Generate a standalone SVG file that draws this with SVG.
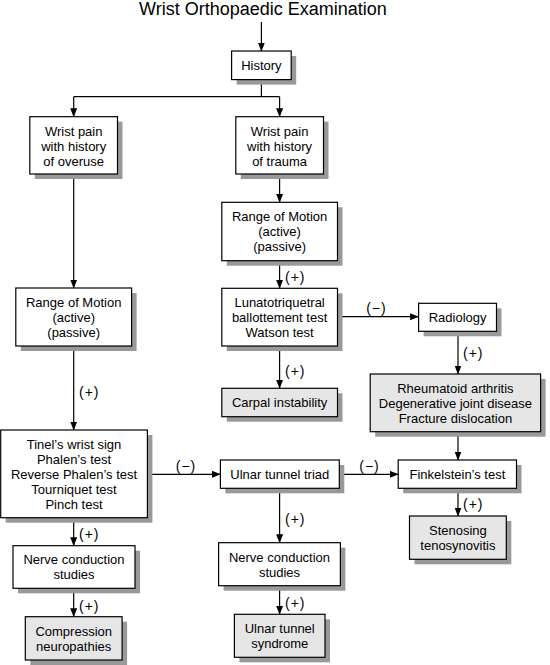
<svg xmlns="http://www.w3.org/2000/svg" width="550" height="665" viewBox="0 0 550 665">
<defs>
<style>
.sh{fill:#999;stroke:none}
.bx{fill:#fff;stroke:#000;stroke-width:1.2}
.gx{fill:#e6e6e6;stroke:#000;stroke-width:1.2}
text{font-family:"Liberation Sans",Arial,sans-serif;font-size:13px;fill:#000;text-anchor:middle}
.lb{font-size:14px;letter-spacing:1px;text-anchor:start}
.lc{font-size:14px;letter-spacing:1px}
.ttl{font-size:18px}
.ln{fill:none;stroke:#000;stroke-width:1.2}
.ar{fill:none;stroke:#000;stroke-width:1.2;marker-end:url(#ah)}
</style>
<marker id="ah" markerWidth="9" markerHeight="7" refX="8.5" refY="3.5" orient="auto" markerUnits="userSpaceOnUse">
<path d="M0,0 L9,3.5 L0,7 z" fill="#000"/>
</marker>
</defs>
<rect width="550" height="665" fill="#fff"/>
<text class="ttl" x="263" y="15">Wrist Orthopaedic Examination</text>

<g id="connectors">
<line class="ar" x1="261.4" y1="22" x2="261.4" y2="51"/>
<polyline class="ln" points="261.4,79 261.4,96.7"/>
<polyline class="ln" points="73.7,96.7 279.6,96.7"/>
<line class="ar" x1="73.7" y1="96.7" x2="73.7" y2="116.7"/>
<line class="ar" x1="279.6" y1="96.7" x2="279.6" y2="116.7"/>
<line class="ar" x1="73.7" y1="174" x2="73.7" y2="288"/>
<line class="ar" x1="279.6" y1="174" x2="279.6" y2="202.3"/>
<line class="ar" x1="279.6" y1="260.7" x2="279.6" y2="288.3"/>
<line class="ar" x1="337.5" y1="316.7" x2="418.6" y2="316.7"/>
<line class="ar" x1="458" y1="331.3" x2="458" y2="374"/>
<line class="ar" x1="279.6" y1="346" x2="279.6" y2="388.3"/>
<line class="ar" x1="73.7" y1="346" x2="73.7" y2="430"/>
<line class="ar" x1="458" y1="431.7" x2="458" y2="460"/>
<line class="ar" x1="147.4" y1="474.3" x2="220.4" y2="474.3"/>
<line class="ar" x1="339.3" y1="474.3" x2="398.2" y2="474.3"/>
<line class="ar" x1="458" y1="488.3" x2="458" y2="516"/>
<line class="ar" x1="73.7" y1="517.7" x2="73.7" y2="545.7"/>
<line class="ar" x1="73.7" y1="588.3" x2="73.7" y2="616.7"/>
<line class="ar" x1="279.6" y1="488.3" x2="279.6" y2="542.7"/>
<line class="ar" x1="279.6" y1="585.7" x2="279.6" y2="614.3"/>
<text class="lb" x="285" y="282">(+)</text>
<text class="lc" x="376.4" y="313">(−)</text>
<text class="lb" x="463" y="358">(+)</text>
<text class="lb" x="285" y="375.5">(+)</text>
<text class="lb" x="79" y="396.5">(+)</text>
<text class="lc" x="186" y="471">(−)</text>
<text class="lc" x="369.5" y="471">(−)</text>
<text class="lb" x="463" y="509">(+)</text>
<text class="lb" x="79" y="539">(+)</text>
<text class="lb" x="79" y="611">(+)</text>
<text class="lb" x="285" y="524">(+)</text>
<text class="lb" x="285" y="608">(+)</text>
</g>

<g id="history">
<rect class="sh" x="236.6" y="56" width="59.6" height="28.6"/>
<rect class="bx" x="231.6" y="51" width="59.6" height="28.6"/>
<text x="261.4" y="70">History</text>
</g>
<g id="overuse">
<rect class="sh" x="34.8" y="121.7" width="87.7" height="57.3"/>
<rect class="bx" x="29.8" y="116.7" width="87.7" height="57.3"/>
<text x="73.7" y="135.5">Wrist pain</text>
<text x="73.7" y="150.5">with history</text>
<text x="73.7" y="165.5">of overuse</text>
</g>
<g id="trauma">
<rect class="sh" x="240.8" y="121.7" width="87.7" height="57.3"/>
<rect class="bx" x="235.8" y="116.7" width="87.7" height="57.3"/>
<text x="279.6" y="135.5">Wrist pain</text>
<text x="279.6" y="150.5">with history</text>
<text x="279.6" y="165.5">of trauma</text>
</g>
<g id="rom-right">
<rect class="sh" x="226.8" y="207.3" width="115.7" height="58.4"/>
<rect class="bx" x="221.8" y="202.3" width="115.7" height="58.4"/>
<text x="279.6" y="221">Range of Motion</text>
<text x="279.6" y="236">(active)</text>
<text x="279.6" y="251">(passive)</text>
</g>
<g id="rom-left">
<rect class="sh" x="20.8" y="293" width="115.8" height="58"/>
<rect class="bx" x="15.8" y="288" width="115.8" height="58"/>
<text x="73.7" y="306.5">Range of Motion</text>
<text x="73.7" y="321.5">(active)</text>
<text x="73.7" y="336.5">(passive)</text>
</g>
<g id="lunatotriquetral">
<rect class="sh" x="226.8" y="293.3" width="115.7" height="57.7"/>
<rect class="bx" x="221.8" y="288.3" width="115.7" height="57.7"/>
<text x="279.6" y="306.5">Lunatotriquetral</text>
<text x="279.6" y="321.5">ballottement test</text>
<text x="279.6" y="336.5">Watson test</text>
</g>
<g id="radiology">
<rect class="sh" x="423.6" y="308.3" width="77.9" height="28"/>
<rect class="bx" x="418.6" y="303.3" width="77.9" height="28"/>
<text x="457.6" y="321.5">Radiology</text>
</g>
<g id="carpal">
<rect class="sh" x="226.8" y="393.3" width="115.7" height="28.4"/>
<rect class="gx" x="221.8" y="388.3" width="115.7" height="28.4"/>
<text x="279.6" y="407">Carpal instability</text>
</g>
<g id="rheumatoid">
<rect class="sh" x="375.2" y="379" width="170.4" height="57.7"/>
<rect class="gx" x="370.2" y="374" width="170.4" height="57.7"/>
<text x="455.4" y="392.5">Rheumatoid arthritis</text>
<text x="455.4" y="407.5">Degenerative joint disease</text>
<text x="455.4" y="422.5">Fracture dislocation</text>
</g>
<g id="tinel">
<rect class="sh" x="5.7" y="435" width="146.7" height="87.7"/>
<rect class="bx" x="0.7" y="430" width="146.7" height="87.7"/>
<text x="74" y="448.5">Tinel’s wrist sign</text>
<text x="74" y="463.5">Phalen’s test</text>
<text x="74" y="478.5">Reverse Phalen’s test</text>
<text x="74" y="493.5">Tourniquet test</text>
<text x="74" y="508.5">Pinch test</text>
</g>
<g id="ulnar-triad">
<rect class="sh" x="225.4" y="465" width="118.9" height="28.3"/>
<rect class="bx" x="220.4" y="460" width="118.9" height="28.3"/>
<text x="279.8" y="478.5">Ulnar tunnel triad</text>
</g>
<g id="finkelstein">
<rect class="sh" x="403.2" y="465" width="118.3" height="28.3"/>
<rect class="bx" x="398.2" y="460" width="118.3" height="28.3"/>
<text x="457.4" y="478.5">Finkelstein’s test</text>
</g>
<g id="stenosing">
<rect class="sh" x="414.5" y="521" width="96.8" height="43.3"/>
<rect class="gx" x="409.5" y="516" width="96.8" height="43.3"/>
<text x="457.9" y="534.5">Stenosing</text>
<text x="457.9" y="549.5">tenosynovitis</text>
</g>
<g id="ncs-left">
<rect class="sh" x="18" y="550.7" width="122" height="42.6"/>
<rect class="bx" x="13" y="545.7" width="122" height="42.6"/>
<text x="74" y="564">Nerve conduction</text>
<text x="74" y="579">studies</text>
</g>
<g id="compression">
<rect class="sh" x="30.3" y="621.7" width="96.8" height="43.3"/>
<rect class="gx" x="25.3" y="616.7" width="96.8" height="43.3"/>
<text x="73.7" y="635.5">Compression</text>
<text x="73.7" y="650.5">neuropathies</text>
</g>
<g id="ncs-middle">
<rect class="sh" x="223.6" y="547.7" width="121.8" height="43"/>
<rect class="bx" x="218.6" y="542.7" width="121.8" height="43"/>
<text x="279.5" y="561.5">Nerve conduction</text>
<text x="279.5" y="576.5">studies</text>
</g>
<g id="ulnar-syndrome">
<rect class="sh" x="239.4" y="619.3" width="90.6" height="43"/>
<rect class="gx" x="234.4" y="614.3" width="90.6" height="43"/>
<text x="279.7" y="632.5">Ulnar tunnel</text>
<text x="279.7" y="647.5">syndrome</text>
</g>
</svg>
